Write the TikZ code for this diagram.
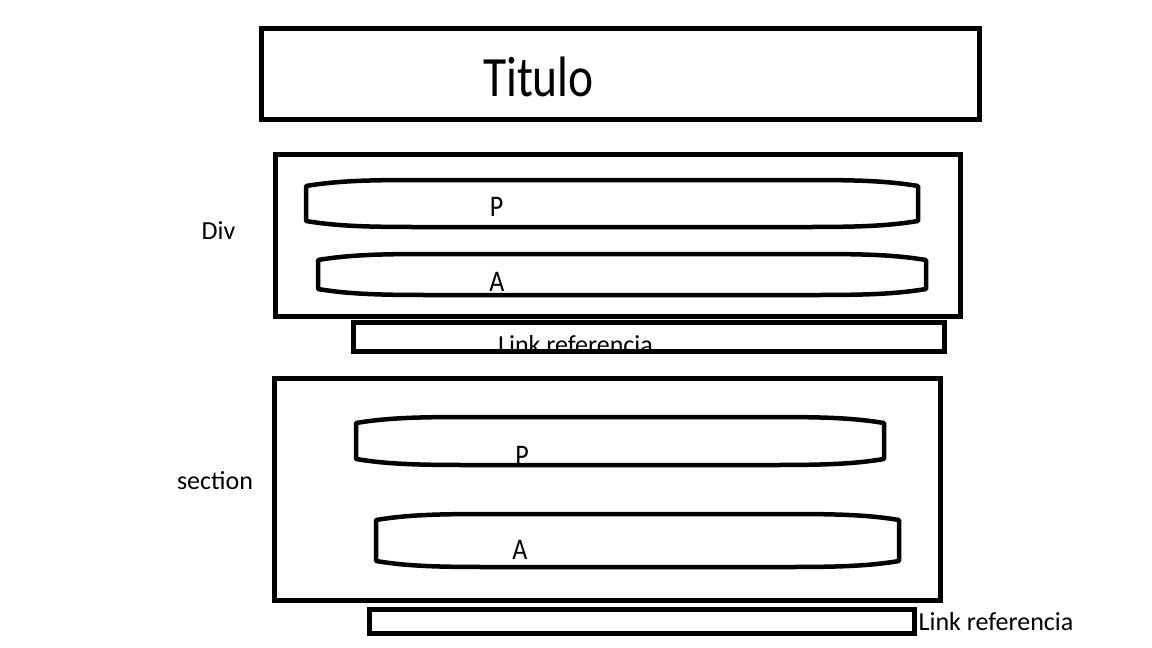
\documentclass[tikz,border=0pt]{standalone}
\usepackage{fontspec}
\setmainfont{Carlito}
\newcommand\barrelpath[4]{%
  ({#1},{#2+6}) .. controls ({#1+30},{#2+1}) and ({#1+60},{#2}) .. ({#1+110},{#2})
  -- ({#3-110},{#2}) .. controls ({#3-60},{#2}) and ({#3-30},{#2+1}) .. ({#3},{#2+6})
  -- ({#3},{#4-6}) .. controls ({#3-30},{#4-1}) and ({#3-60},{#4}) .. ({#3-110},{#4})
  -- ({#1+110},{#4}) .. controls ({#1+60},{#4}) and ({#1+30},{#4-1}) .. ({#1},{#4-6}) -- cycle}
\tikzset{
  box/.style={draw=black, line width=5pt, inner sep=0pt, fill=none},
  barrel/.style={draw=black, line width=4.5pt, line join=round},
  lbl/.style={inner sep=0pt, font=\fontsize{26}{30}\selectfont},
  big/.style={inner sep=0pt, font=\fontsize{47.5}{50}\selectfont},
}
\begin{document}
\begin{tikzpicture}[x=1pt,y=-1pt]
\useasboundingbox (0,0) rectangle (1152,648);
% title
\node[box, minimum width=718pt, minimum height=91pt] (title) at (620,73.5) {};
\node[big] (titletext) at (538.5,76.5) {\scalebox{1}[1.2]{Titulo}};
% div
\node[box, minimum width=685pt, minimum height=162pt] (div) at (617.5,235) {};
\node[lbl] (divlabel) at (218.5,231) {Div};
\draw[barrel] \barrelpath{306}{180}{918}{227};
\node[lbl] (p1) at (496.5,207) {\scalebox{1}[1.15]{P}};
\draw[barrel] \barrelpath{318}{254}{926}{295};
\node[lbl] (a1) at (497,282) {\scalebox{1}[1.15]{A}};
% link 1
\node[box, minimum width=591pt, minimum height=29pt] (link1) at (648.5,336.5) {};
\begin{scope}
\clip (353,322) rectangle (944,352);
\node[lbl, anchor=base west] (link1text) at (498,353.5) {Link referencia};
\end{scope}
\node[box, minimum width=591pt, minimum height=29pt] at (648.5,336.5) {};
% section
\node[box, minimum width=666pt, minimum height=222pt] (section) at (607,489) {};
\node[lbl] (seclabel) at (215,481) {section};
\draw[barrel] \barrelpath{356}{417}{884}{465};
\node[lbl] (p2) at (522,456) {\scalebox{1}[1.15]{P}};
\draw[barrel] \barrelpath{376}{514}{899}{567};
\node[lbl] (a2) at (520,550) {\scalebox{1}[1.15]{A}};
% link 2
\node[box, minimum width=545pt, minimum height=24pt] (link2) at (641.5,621) {};
\node[lbl, anchor=base west] (link2text) at (918.5,630) {Link referencia};
\end{tikzpicture}
\end{document}
